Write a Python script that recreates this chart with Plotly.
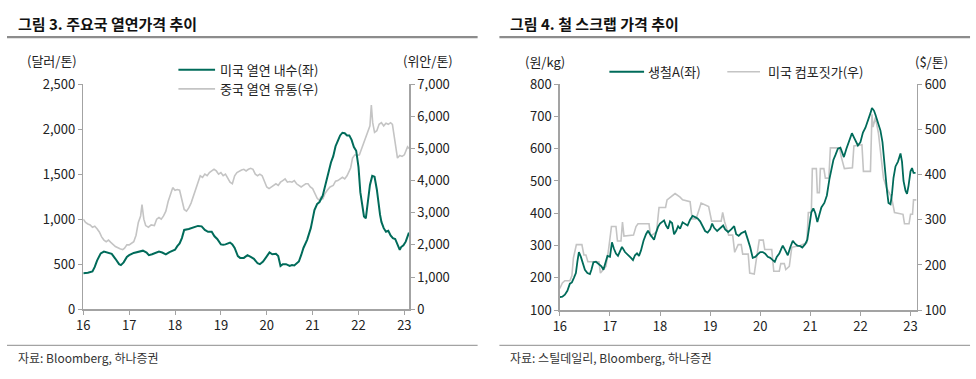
import plotly.graph_objects as go

W, H = 976, 379
def px(x): return x / W
def py(y): return 1 - y / H

FONT = "Noto Sans CJK KR"
GREEN = "#006B5A"
GRAY = "#C4C4C4"
AX = "#A3A3A3"

# ---------------- data: left panel (HRC) ----------------
year_ticks = [16, 17, 18, 19, 20, 21, 22, 23]
year_labels = ["16", "17", "18", "19", "20", "21", "22", "23"]

us_hrc_t = [16.0, 16.1, 16.2, 16.25, 16.3, 16.38, 16.45, 16.55, 16.62, 16.7, 16.78, 16.82, 16.88, 16.95,
            17.0, 17.1, 17.2, 17.3, 17.38, 17.43, 17.5, 17.58, 17.65, 17.72, 17.8, 17.88, 17.95,
            18.0, 18.05, 18.1, 18.15, 18.2, 18.3, 18.4, 18.5, 18.58, 18.65, 18.72, 18.8, 18.86, 18.92,
            19.0, 19.05, 19.1, 19.2, 19.25, 19.3, 19.37, 19.42, 19.5, 19.58, 19.65, 19.72, 19.8, 19.85, 19.92,
            20.0, 20.06, 20.12, 20.2, 20.25, 20.3, 20.35, 20.42, 20.5, 20.55, 20.6, 20.65, 20.7, 20.75, 20.8, 20.88, 20.96,
            21.0, 21.04, 21.1, 21.15, 21.22, 21.3, 21.35, 21.4, 21.45, 21.5, 21.55, 21.6, 21.65, 21.7, 21.75, 21.8, 21.85, 21.9, 21.95,
            22.0, 22.04, 22.08, 22.12, 22.16, 22.2, 22.25, 22.3, 22.35, 22.4, 22.43, 22.47, 22.5, 22.55, 22.6, 22.65, 22.7, 22.75, 22.8, 22.85, 22.9, 22.93, 22.98,
            23.03, 23.08, 23.1]
us_hrc_v = [400, 405, 420, 470, 540, 620, 640, 630, 615, 560, 500, 490, 520, 580,
            600, 625, 635, 650, 630, 600, 610, 625, 640, 630, 610, 635, 650,
            660, 700, 730, 790, 880, 890, 910, 925, 920, 880, 860, 860, 810, 780,
            720, 715, 720, 740, 720, 680, 590, 570, 570, 600, 580, 560, 510, 500, 530,
            580, 630, 610, 615, 590, 480, 500, 500, 480, 490, 485, 510, 530, 600, 680, 770, 900,
            1000, 1100, 1170, 1190, 1260, 1420, 1550, 1630, 1700, 1810, 1870, 1930, 1960, 1955, 1930, 1930, 1880, 1800, 1760,
            1580, 1300, 1150, 1030, 1010, 1180, 1380, 1480, 1470, 1330, 1200, 1050, 970, 900, 860, 870, 820, 790, 780, 720, 660, 690, 710,
            750, 820, 850]

cn_hrc_t = [16.0, 16.05, 16.1, 16.15, 16.2, 16.25, 16.3, 16.35, 16.4, 16.45, 16.5, 16.55, 16.6, 16.65, 16.7, 16.8, 16.86, 16.9, 16.95,
            17.0, 17.05, 17.1, 17.15, 17.2, 17.25, 17.28, 17.32, 17.36, 17.42, 17.48, 17.55, 17.6, 17.65, 17.7, 17.75, 17.8, 17.85, 17.9, 17.95,
            18.0, 18.05, 18.1, 18.15, 18.2, 18.25, 18.3, 18.35, 18.4, 18.45, 18.5, 18.55, 18.6, 18.65, 18.7, 18.75, 18.8, 18.85, 18.9, 18.95,
            19.0, 19.05, 19.1, 19.15, 19.2, 19.25, 19.3, 19.35, 19.4, 19.45, 19.5, 19.55, 19.6, 19.65, 19.7, 19.75, 19.8, 19.85, 19.9, 19.95,
            20.0, 20.05, 20.1, 20.15, 20.2, 20.25, 20.3, 20.35, 20.4, 20.45, 20.5, 20.55, 20.6, 20.65, 20.7, 20.75, 20.8, 20.85, 20.9, 20.95,
            21.0, 21.05, 21.1, 21.15, 21.18, 21.22, 21.27, 21.32, 21.38, 21.45, 21.5, 21.55, 21.6, 21.65, 21.7, 21.75, 21.8, 21.83, 21.87, 21.92, 21.97,
            22.02, 22.07, 22.12, 22.17, 22.22, 22.25, 22.28, 22.31, 22.35, 22.4, 22.45, 22.5, 22.55, 22.6, 22.65, 22.7, 22.74, 22.78, 22.82, 22.85, 22.9, 22.95,
            23.0, 23.04, 23.07, 23.1]
cn_hrc_v = [2800, 2700, 2650, 2620, 2550, 2580, 2500, 2400, 2250, 2150, 2100, 2150, 2080, 2000, 1950, 1880, 1850, 1900, 2000,
            2000, 2050, 2100, 2300, 2700, 2900, 3250, 2800, 2600, 2550, 2620, 2600, 2800, 2850, 2800, 2900, 3050, 3350, 3600, 3780,
            3700, 3720, 3700, 3400, 3100, 3050, 3150, 3300, 3500, 3750, 3900, 4150, 4100, 4200, 4150, 4250, 4300, 4350, 4300, 4200,
            4250, 4150, 4200, 4050, 3950, 3900, 4150, 4250, 4300, 4330, 4350, 4300, 4350, 4380, 4350, 4200, 4150, 4200, 4150, 4000,
            3800, 3750, 3800, 3850, 3900, 3850, 3950, 4000, 4050, 3950, 3970, 3950, 4000, 3900, 3850, 3800, 3850, 3900, 3900, 3800,
            3750, 3600, 3450, 3380, 3500, 3420, 3600, 3700, 3800, 3850, 3980, 4000, 4050, 4100, 4050, 4150, 4300, 4400, 4700, 4800, 4780,
            4800, 5000, 5200, 5400, 5550, 5700, 6350, 5800, 5500, 5550, 5750, 5800, 5700, 5780, 5750, 5800, 5750, 5300, 4900, 4700, 4780, 4750,
            4800, 4950, 5050, 5000]

# ---------------- data: right panel (scrap) ----------------
scrap_a_t = [16.0, 16.05, 16.1, 16.15, 16.2, 16.24, 16.28, 16.32, 16.35, 16.38, 16.42, 16.47, 16.5, 16.55, 16.6, 16.63, 16.67, 16.72, 16.78, 16.83, 16.87, 16.9, 16.95,
             17.0, 17.04, 17.08, 17.12, 17.16, 17.2, 17.24, 17.3, 17.36, 17.42, 17.46, 17.5, 17.54, 17.58, 17.62, 17.67, 17.72, 17.76, 17.8, 17.85, 17.88, 17.92, 17.96,
             18.0, 18.04, 18.08, 18.12, 18.16, 18.2, 18.24, 18.28, 18.32, 18.36, 18.4, 18.45, 18.5, 18.55, 18.6, 18.65, 18.7, 18.75, 18.8, 18.85, 18.9, 18.95,
             19.0, 19.04, 19.08, 19.14, 19.2, 19.26, 19.3, 19.36, 19.42, 19.48, 19.52, 19.57, 19.62, 19.7, 19.75, 19.8, 19.85, 19.9, 19.96,
             20.0, 20.05, 20.1, 20.15, 20.2, 20.25, 20.29, 20.33, 20.38, 20.42, 20.45, 20.5, 20.55, 20.6, 20.65, 20.7, 20.74, 20.8, 20.84, 20.9, 20.94, 20.98,
             21.02, 21.06, 21.1, 21.14, 21.18, 21.22, 21.28, 21.33, 21.38, 21.42, 21.46, 21.5, 21.55, 21.6, 21.64, 21.67, 21.72, 21.77, 21.83, 21.87, 21.9, 21.95,
             22.0, 22.05, 22.1, 22.15, 22.2, 22.23, 22.27, 22.3, 22.35, 22.4, 22.44, 22.47, 22.5, 22.53, 22.56, 22.6, 22.63, 22.66, 22.7, 22.75, 22.8, 22.83, 22.86, 22.9, 22.93, 22.96,
             23.0, 23.03, 23.06, 23.1]
scrap_a_v = [140, 142, 148, 160, 182, 186, 200, 215, 250, 280, 265, 242, 225, 215, 212, 225, 248, 250, 242, 236, 225, 240, 268,
             265, 310, 290, 275, 268, 285, 296, 280, 272, 262, 255, 270, 276, 268, 285, 315, 335, 346, 335, 322, 318, 340, 358,
             368, 372, 378, 362, 352, 375, 370, 335, 345, 360, 352, 372, 368, 362, 380, 392, 388, 384, 375, 360, 345, 340,
             350, 368, 355, 345, 355, 362, 350, 342, 350, 360, 335, 330, 338, 344, 320, 295, 262, 265, 274,
             280, 280, 275, 265, 262, 255, 250, 265, 275, 290, 300, 285, 270, 295, 315, 305, 300, 298, 294, 305, 318, 360,
             403, 415, 400, 373, 400, 418, 432, 455, 505, 540, 565, 580, 600, 603, 585, 574, 600, 620, 648, 635, 626, 610,
             620, 650, 665, 685, 710, 726, 718, 705, 680, 656, 620, 580, 520, 470, 432, 428, 460, 510, 545, 560, 585, 560, 500, 470, 460, 485,
             530, 540, 525, 525]

composite_t = [16.0, 16.05, 16.1, 16.2, 16.24, 16.27, 16.33, 16.44, 16.48, 16.52, 16.56, 16.78, 16.81, 16.92, 16.97,
               17.03, 17.12, 17.15, 17.22, 17.25, 17.28, 17.47, 17.52, 17.56, 17.78, 17.81, 17.89, 17.93, 17.98,
               18.11, 18.14, 18.25, 18.3, 18.4, 18.45, 18.6, 18.64, 18.72, 18.76, 18.82, 18.97,
               19.03, 19.22, 19.25, 19.29, 19.37, 19.45, 19.49, 19.56, 19.62, 19.65, 19.76, 19.79, 19.88, 19.91, 19.98,
               20.06, 20.09, 20.23, 20.27, 20.38, 20.41, 20.48, 20.51, 20.58, 20.63, 20.8, 20.85, 20.93, 20.96,
               21.02, 21.04, 21.12, 21.14, 21.18, 21.2, 21.27, 21.3, 21.37, 21.4, 21.58, 21.62, 21.68, 21.84, 21.87,
               22.03, 22.06, 22.2, 22.23, 22.25, 22.3, 22.36, 22.42, 22.46, 22.52, 22.58, 22.62, 22.68, 22.85, 22.88, 22.97,
               23.0, 23.04, 23.06, 23.12]
composite_v = [148, 160, 165, 165, 176, 215, 245, 245, 222, 222, 207, 207, 182, 197, 232,
               285, 285, 253, 253, 295, 264, 266, 285, 291, 291, 264, 270, 274, 327,
               327, 344, 355, 358, 350, 344, 340, 302, 302, 318, 337, 329,
               297, 297, 316, 295, 266, 266, 228, 245, 245, 224, 224, 182, 180, 203, 255,
               255, 234, 234, 186, 186, 203, 203, 190, 197, 239, 243, 245, 249, 316,
               316, 413, 413, 360, 360, 413, 413, 392, 392, 459, 459, 438, 413, 415, 463,
               466, 407, 407, 533, 505, 526, 491, 434, 392, 371, 360, 350, 316, 312, 291, 291,
               312, 312, 344, 344]

fig = go.Figure()
fig.add_trace(go.Scatter(x=cn_hrc_t, y=cn_hrc_v, xaxis="x", yaxis="y", mode="lines",
                         line=dict(color=GRAY, width=1.6), name="중국 열연 유통(우)", showlegend=False))
fig.add_trace(go.Scatter(x=us_hrc_t, y=us_hrc_v, xaxis="x", yaxis="y2", mode="lines",
                         line=dict(color=GREEN, width=2), name="미국 열연 내수(좌)", showlegend=False))
fig.add_trace(go.Scatter(x=composite_t, y=composite_v, xaxis="x2", yaxis="y3", mode="lines",
                         line=dict(color=GRAY, width=1.6), name="미국 컴포짓가(우)", showlegend=False))
fig.add_trace(go.Scatter(x=scrap_a_t, y=scrap_a_v, xaxis="x2", yaxis="y4", mode="lines",
                         line=dict(color=GREEN, width=1.8), name="생철A(좌)", showlegend=False))

tickfont = dict(family=FONT, size=13, color="#222222")
common = dict(showline=True, linecolor=AX, linewidth=1.5, ticks="outside", ticklen=4,
              tickcolor=AX, tickwidth=1, showgrid=False, zeroline=False, tickfont=tickfont,
              fixedrange=True)

L_dom_x = [px(77), px(406)]
L_dom_y = [py(315), py(78)]
R_dom_x = [px(558), px(918)]
R_dom_y = [py(316), py(78)]

fig.update_layout(
    width=W, height=H, autosize=False,
    margin=dict(l=0, r=0, t=0, b=0),
    paper_bgcolor="white", plot_bgcolor="white",
    showlegend=False, hovermode=False,
    xaxis=dict(domain=L_dom_x, anchor="y", range=[16, 23.107], tickvals=year_ticks, ticktext=year_labels, **common),
    yaxis=dict(domain=L_dom_y, anchor="x", side="right", range=[0, 7000], dtick=1000, tickformat=",", **common),
    yaxis2=dict(overlaying="y", anchor="x", side="left", range=[0, 2500], dtick=500, tickformat=",", **common),
    xaxis2=dict(domain=R_dom_x, anchor="y3", range=[16, 23.12], tickvals=year_ticks, ticktext=year_labels, **common),
    yaxis3=dict(domain=R_dom_y, anchor="x2", side="right", range=[100, 600], dtick=100, **common),
    yaxis4=dict(overlaying="y3", anchor="x2", side="left", range=[100, 800], dtick=100, **common),
)

shapes = []
annotations = []

def text(x, y, s, size=13, bold=False, xanchor="left", color="#222222"):
    annotations.append(dict(x=px(x), y=py(y), xref="paper", yref="paper", text=("<b>%s</b>" % s if bold else s),
                            showarrow=False, xanchor=xanchor, yanchor="middle",
                            font=dict(family=FONT, size=size, color=color)))

def hline(x0, x1, y, color, width):
    shapes.append(dict(type="line", xref="paper", yref="paper", x0=px(x0), x1=px(x1), y0=py(y), y1=py(y),
                       line=dict(color=color, width=width)))

text(9, 14, "그림 3. 주요국 열연가격 추이", size=15, bold=True, color="#111111")
text(506, 14, "그림 4. 철 스크랩 가격 추이", size=15, bold=True, color="#111111")
hline(0, 475, 28.5, "#8C8C8C", 2.2)
hline(497, 972, 28.5, "#8C8C8C", 2.2)
hline(0, 475, 353, "#8C8C8C", 1)
hline(497, 972, 353, "#8C8C8C", 1)
text(9, 366, "자료: Bloomberg, 하나증권", size=12, color="#333333")
text(506, 366, "자료: 스틸데일리, Bloomberg, 하나증권", size=12, color="#333333")

text(45, 53, "(달러/톤)", xanchor="center")
text(425, 53, "(위안/톤)", xanchor="center")
text(543, 54, "(원/kg)", xanchor="center")
text(933, 54, "($/톤)", xanchor="center")

hline(173, 210, 63, GREEN, 2)
text(213, 63, "미국 열연 내수(좌)")
hline(173, 210, 83, GRAY, 1.6)
text(213, 83, "중국 열연 유통(우)")
hline(608, 643, 65, GREEN, 2)
text(645, 65, "생철A(좌)")
hline(727, 760, 65, GRAY, 1.6)
text(766, 65, "미국 컴포짓가(우)")

fig.update_layout(shapes=shapes, annotations=annotations)
fig.write_html(
    "out.html",
    config={"displayModeBar": False, "staticPlot": True},
    post_script="document.body.style.margin='0';document.body.style.padding='0';"
                "document.documentElement.style.overflow='hidden';document.body.style.overflow='hidden';",
)
